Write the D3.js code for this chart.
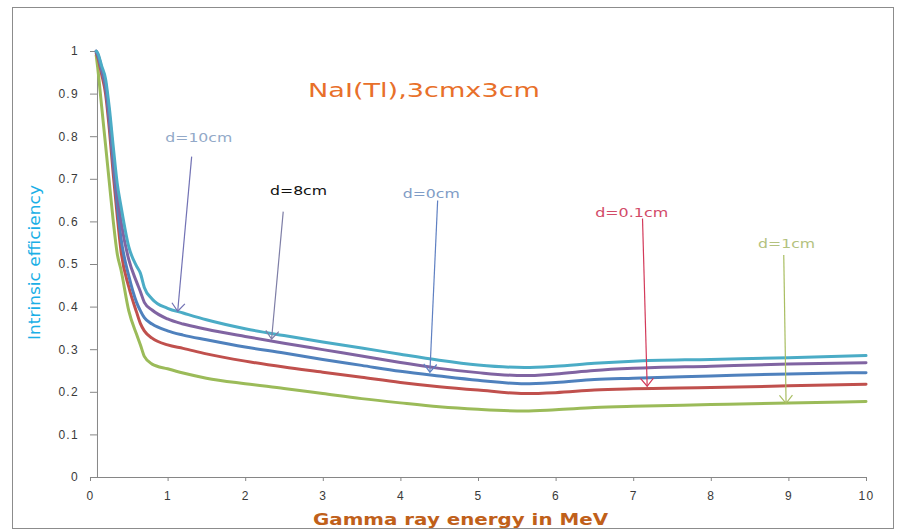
<!DOCTYPE html>
<html>
<head>
<meta charset="utf-8">
<title>NaI(Tl) intrinsic efficiency</title>
<style>
body{ margin:0; background:#fff; }
svg{ font-family:"DejaVu Sans", Verdana, sans-serif; }
.curve{
	fill: none;
	stroke-width: 3px;
	stroke-linejoin: round;
	stroke-linecap: round;
}
.axis path, .axis line{ stroke:#868686; }
.axis text{ fill:#3a3a3a; font-size:12px; letter-spacing:1.3px; }
</style>
<script src="https://cdn.jsdelivr.net/npm/d3@7"></script>
</head>
<body>
<div id="chart"></div>
<script>
// gamma energy (MeV) and intrinsic efficiency per source distance
var energies = [0.08,0.1,0.15,0.2,0.25,0.3,0.35,0.4,0.5,0.6,0.65,0.7,0.8,1,1.2,1.5,2,2.5,3,3.5,4,4.5,5,5.6,6,6.5,7,8,9,10];
var eff10cm = [1.0,0.995,0.965,0.935,0.865,0.775,0.69,0.635,0.54,0.495,0.478,0.445,0.418,0.396,0.385,0.369,0.348,0.332,0.317,0.303,0.288,0.274,0.263,0.257,0.260,0.267,0.272,0.276,0.280,0.285];
var eff8cm  = [1.0,0.993,0.96,0.925,0.85,0.755,0.665,0.60,0.51,0.458,0.435,0.41,0.392,0.371,0.359,0.347,0.33,0.314,0.299,0.284,0.269,0.255,0.245,0.238,0.242,0.25,0.255,0.26,0.265,0.268];
var eff0cm  = [0.998,0.99,0.955,0.915,0.835,0.735,0.64,0.56,0.472,0.41,0.39,0.374,0.359,0.343,0.333,0.322,0.305,0.291,0.276,0.262,0.248,0.237,0.227,0.219,0.222,0.229,0.232,0.237,0.242,0.245];
var eff01cm = [0.995,0.985,0.945,0.9,0.815,0.71,0.615,0.53,0.446,0.387,0.36,0.343,0.326,0.31,0.302,0.289,0.272,0.258,0.246,0.234,0.222,0.212,0.204,0.196,0.198,0.204,0.207,0.21,0.214,0.218];
var eff1cm  = [0.99,0.96,0.87,0.78,0.69,0.6,0.525,0.486,0.39,0.335,0.31,0.283,0.265,0.254,0.244,0.232,0.219,0.208,0.196,0.184,0.174,0.165,0.159,0.155,0.158,0.163,0.166,0.17,0.174,0.177];

var xTicks = [0,1,2,3,4,5,6,7,8,9,10];
var yTicks = [0,0.1,0.2,0.3,0.4,0.5,0.6,0.7,0.8,0.9,1];

// callouts: label, where the text sits, where the arrow starts and where it points (MeV, efficiency)
var noteLabels  = ["d=10cm","d=8cm","d=0cm","d=0.1cm","d=1cm"];
var noteTextAt  = [[0.97,0.786],[2.32,0.662],[4.03,0.654],[6.51,0.61],[8.61,0.537]];
var noteFrom    = [[1.31,0.752],[2.49,0.623],[4.48,0.649],[7.12,0.607],[8.94,0.521]];
var noteTo      = [[1.13,0.389],[2.34,0.324],[4.38,0.246],[7.18,0.213],[8.97,0.173]];

var width = 906;
var height = 531;

var x = d3.scaleLinear().domain([0,10]).range([90,866]);
var y = d3.scaleLinear().domain([0,1]).range([477,51]);
var yAxisAt = 0.09;

var series = [
	{ vals: eff1cm,  color: "#9BBB59" },
	{ vals: eff01cm, color: "#C0504D" },
	{ vals: eff0cm,  color: "#4F81BD" },
	{ vals: eff8cm,  color: "#8064A2" },
	{ vals: eff10cm, color: "#4BACC6" }
];
var noteTextColors  = ["#92A9C8","#111111","#7F9CC6","#D24A68","#B3C27E"];
var noteArrowColors = ["#7272B4","#7E7EA6","#5F80C2","#D33A5A","#A9BE62"];
var noteWidths = [67,57,57,73,57];

var svg = d3.select("#chart").append("svg")
	.attr("width", width)
	.attr("height", height);

svg.append("rect")
	.attr("x", 12.5).attr("y", 7.5)
	.attr("width", 881).attr("height", 521)
	.attr("fill", "#fff")
	.attr("stroke", "#8c8c8c");

// axes
svg.append("g")
	.attr("class", "axis")
	.attr("transform", "translate(0," + y(0) + ")")
	.call(d3.axisBottom(x).tickValues(xTicks).tickSize(4).tickSizeOuter(0).tickPadding(10).tickFormat(d3.format("d")));

svg.append("g")
	.attr("class", "axis")
	.attr("transform", "translate(" + x(yAxisAt) + ",0)")
	.call(d3.axisLeft(y).tickValues(yTicks).tickSize(7).tickSizeOuter(0).tickPadding(11).tickFormat(function(d){ return d3.format("")(+d.toFixed(1)); }));

// curves
var line = d3.line()
	.curve(d3.curveMonotoneX)
	.x(function(d, i){ return x(energies[i]); })
	.y(function(d){ return y(d); });

svg.selectAll(".curve")
	.data(series)
	.enter().append("path")
	.attr("class", "curve")
	.attr("stroke", function(d){ return d.color; })
	.attr("d", function(d){ return line(d.vals); });

// arrow heads
var defs = svg.append("defs");
noteArrowColors.forEach(function(c, i){
	defs.append("marker")
		.attr("id", "head" + i)
		.attr("viewBox", "-1 -8 11 16")
		.attr("refX", 8).attr("refY", 0)
		.attr("markerUnits", "userSpaceOnUse")
		.attr("markerWidth", 11).attr("markerHeight", 16)
		.attr("orient", "auto")
		.append("path")
		.attr("d", "M0,-6.5L8,0L0,6.5")
		.attr("fill", "none")
		.attr("stroke", c)
		.attr("stroke-width", 1.2);
});

noteLabels.forEach(function(lab, i){
	svg.append("line")
		.attr("x1", x(noteFrom[i][0])).attr("y1", y(noteFrom[i][1]))
		.attr("x2", x(noteTo[i][0])).attr("y2", y(noteTo[i][1]))
		.attr("stroke", noteArrowColors[i])
		.attr("stroke-width", 1.2)
		.attr("marker-end", "url(#head" + i + ")");
	svg.append("text")
		.attr("x", x(noteTextAt[i][0]))
		.attr("y", y(noteTextAt[i][1]))
		.attr("font-size", 13)
		.attr("fill", noteTextColors[i])
		.attr("textLength", noteWidths[i])
		.attr("lengthAdjust", "spacingAndGlyphs")
		.text(lab);
});

// titles
svg.append("text")
	.attr("x", 308).attr("y", 97)
	.attr("font-size", 19)
	.attr("fill", "#E8702A")
	.attr("textLength", 232)
	.attr("lengthAdjust", "spacingAndGlyphs")
	.text("NaI(Tl),3cmx3cm");

svg.append("text")
	.attr("x", 313).attr("y", 525)
	.attr("font-size", 16)
	.attr("font-weight", "bold")
	.attr("fill", "#C0601A")
	.attr("textLength", 295)
	.attr("lengthAdjust", "spacingAndGlyphs")
	.text("Gamma ray energy in MeV");

svg.append("text")
	.attr("transform", "translate(40,340) rotate(-90)")
	.attr("font-size", 16)
	.attr("fill", "#1AAFE6")
	.attr("textLength", 155)
	.attr("lengthAdjust", "spacingAndGlyphs")
	.text("Intrinsic efficiency");
</script>
</body>
</html>
